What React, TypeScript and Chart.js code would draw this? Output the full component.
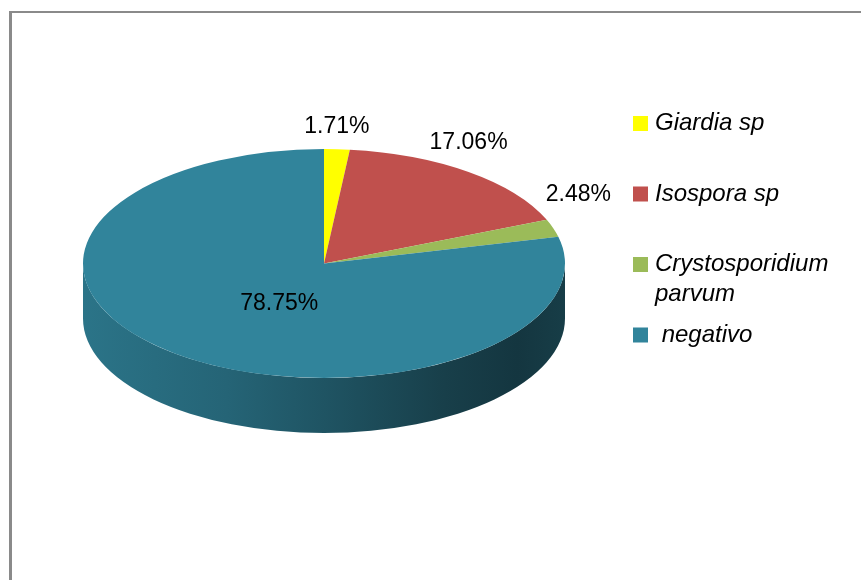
import React, { useEffect, useRef } from "react";
import { Chart, registerables } from "chart.js";

Chart.register(...registerables);

// ---- data ----
const categories = ["Giardia sp", "Isospora sp", "Crystosporidium parvum", " negativo"];
const percentages = [1.71, 17.06, 2.48, 78.75];
const sliceColors = ["#FFFF00", "#C0504D", "#9BBB59", "#31849B"];

// ---- layout / style ----
const W = 861;
const H = 580;
const TILT = 0.475; // vertical squash of the pie top face
const DEPTH = 55; // thickness of the pie side
const LABEL_FONT = "23px 'Liberation Sans', Arial, sans-serif";
const LEGEND_FONT = "italic 24px 'Liberation Sans', Arial, sans-serif";

function hexToRgb(hex: string) {
  const h = hex.replace("#", "");
  return [parseInt(h.slice(0, 2), 16), parseInt(h.slice(2, 4), 16), parseInt(h.slice(4, 6), 16)];
}
function shade(hex: string, f: number) {
  const [r, g, b] = hexToRgb(hex);
  return `rgb(${Math.round(r * f)},${Math.round(g * f)},${Math.round(b * f)})`;
}

function wrapText(ctx: CanvasRenderingContext2D, text: string, maxWidth: number): string[] {
  const words = text.split(" ");
  const lines: string[] = [];
  let cur = "";
  words.forEach((w, idx) => {
    const test = cur === "" && idx === 0 ? w : cur + " " + w;
    if (ctx.measureText(test).width > maxWidth && cur.trim() !== "") {
      lines.push(cur);
      cur = w;
    } else {
      cur = test;
    }
  });
  lines.push(cur);
  return lines;
}

const frameAndPie3d = {
  id: "frameAndPie3d",
  beforeDraw(chart: any) {
    const ctx: CanvasRenderingContext2D = chart.ctx;
    ctx.save();
    ctx.fillStyle = "#8a8a8a";
    ctx.fillRect(9, 11, 3, H - 11);
    ctx.fillRect(9, 11, W - 9, 2);
    ctx.restore();
  },
  beforeDatasetsDraw(chart: any) {
    const ctx: CanvasRenderingContext2D = chart.ctx;
    const arcs = chart.getDatasetMeta(0).data;
    if (!arcs.length) return;
    const cx = arcs[0].x;
    const cy = arcs[0].y;
    const r = arcs[0].outerRadius;
    const ry = r * TILT;
    ctx.save();
    arcs.forEach((arc: any, i: number) => {
      const s = arc.startAngle;
      const e = arc.endAngle;
      [-2 * Math.PI, 0, 2 * Math.PI].forEach((k) => {
        const lo = Math.max(s, k);
        const hi = Math.min(e, Math.PI + k);
        if (hi <= lo) return;
        const base = sliceColors[i];
        const g = ctx.createLinearGradient(cx - r, 0, cx + r, 0);
        g.addColorStop(0, shade(base, 0.88));
        g.addColorStop(0.3, shade(base, 0.76));
        g.addColorStop(0.5, shade(base, 0.64));
        g.addColorStop(0.75, shade(base, 0.48));
        g.addColorStop(0.9, shade(base, 0.41));
        g.addColorStop(1, shade(base, 0.46));
        ctx.beginPath();
        ctx.ellipse(cx, cy, r, ry, 0, lo, hi, false);
        ctx.ellipse(cx, cy + DEPTH, r, ry, 0, hi, lo, true);
        ctx.closePath();
        ctx.fillStyle = g;
        ctx.fill();
      });
    });
    ctx.restore();
    // squash the top face
    ctx.save();
    ctx.translate(cx, cy);
    ctx.scale(1, TILT);
    ctx.translate(-cx, -cy);
  },
  afterDatasetsDraw(chart: any) {
    const ctx: CanvasRenderingContext2D = chart.ctx;
    ctx.restore();
    const arcs = chart.getDatasetMeta(0).data;
    if (!arcs.length) return;
    const cx = arcs[0].x;
    const cy = arcs[0].y;
    const r = arcs[0].outerRadius;
    const ry = r * TILT;
    ctx.save();
    ctx.font = LABEL_FONT;
    ctx.fillStyle = "#000";
    ctx.textAlign = "center";
    ctx.textBaseline = "middle";
    arcs.forEach((arc: any, i: number) => {
      const v = percentages[i];
      const a = (arc.startAngle + arc.endAngle) / 2 + Math.PI / 2;
      const sa = Math.sin(a);
      const ca = Math.cos(a);
      let x: number;
      let y: number;
      if (v < 30) {
        x = cx + r * sa + Math.max(0, sa - 0.7) * 100;
        y = cy - ry * ca - (22 + 12 * Math.abs(sa));
      } else {
        x = cx + r * sa * 0.3;
        y = cy - ry * ca * 0.45;
      }
      ctx.fillText(`${v.toFixed(2)}%`, x, y);
    });
    ctx.restore();
  },
  afterDraw(chart: any) {
    const ctx: CanvasRenderingContext2D = chart.ctx;
    ctx.save();
    ctx.font = LEGEND_FONT;
    ctx.textAlign = "left";
    ctx.textBaseline = "middle";
    const boxX = 633;
    const box = 15;
    const textX = 655;
    const y0 = 123.5;
    const step = 70.5;
    const lineH = 30;
    categories.forEach((c, i) => {
      const y = y0 + i * step;
      ctx.fillStyle = sliceColors[i];
      ctx.fillRect(boxX, y - box / 2, box, box);
      ctx.fillStyle = "#000";
      const lines = wrapText(ctx, c, W - textX - 6);
      lines.forEach((ln, j) => ctx.fillText(ln, textX, y + j * lineH));
    });
    ctx.restore();
  },
};

export default function App() {
  const ref = useRef<HTMLCanvasElement | null>(null);
  useEffect(() => {
    if (!ref.current) return;
    const chart = new Chart(ref.current, {
      type: "pie",
      data: {
        labels: categories,
        datasets: [
          {
            data: percentages,
            backgroundColor: sliceColors,
            borderWidth: 0,
            hoverOffset: 0,
          },
        ],
      },
      options: {
        responsive: false,
        animation: false,
        events: [],
        layout: { padding: { left: 83, right: 296, top: 22.5, bottom: 75.5 } },
        plugins: {
          legend: { display: false },
          tooltip: { enabled: false },
        },
      },
      plugins: [frameAndPie3d],
    } as any);
    return () => chart.destroy();
  }, []);
  return (
    <div style={{ position: "fixed", left: 0, top: 0, width: W, height: H, background: "#fff" }}>
      <canvas ref={ref} width={W} height={H} style={{ display: "block", width: W, height: H }} />
    </div>
  );
}
